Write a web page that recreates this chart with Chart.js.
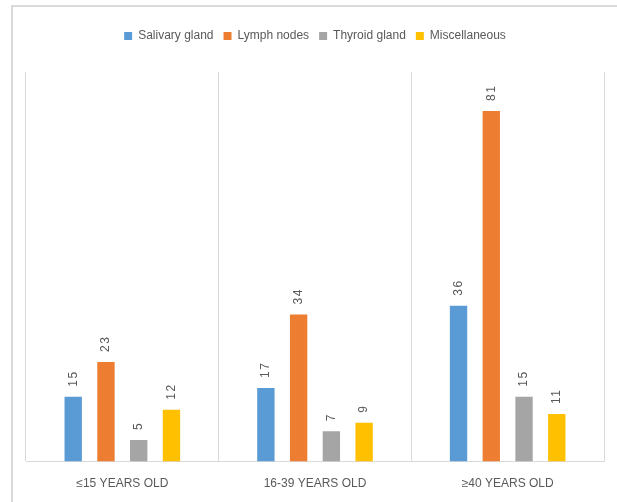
<!DOCTYPE html>
<html>
<head>
<meta charset="utf-8">
<script src="https://cdn.jsdelivr.net/npm/chart.js@4/dist/chart.umd.min.js"></script>
<style>
  html, body { margin: 0; padding: 0; background: #fff; }
  #wrap { width: 617px; height: 502px; position: relative; }
</style>
</head>
<body>
<div id="wrap"><canvas id="myChart"></canvas></div>
<script>
const categories = ['≤15 YEARS OLD', '16-39 YEARS OLD', '≥40 YEARS OLD'];
const salivaryGland = [15, 17, 36];
const lymphNodes = [23, 34, 81];
const thyroidGland = [5, 7, 15];
const miscellaneous = [12, 9, 11];

const FONT = "'Liberation Sans', 'DejaVu Sans', sans-serif";
const TEXT = '#595959';

// frame around the whole chart + rotated value labels
const framePlugin = {
    id: 'frame',
    beforeDraw(chart) {
        const ctx = chart.ctx;
        ctx.save();
        ctx.strokeStyle = '#d9d9d9';
        ctx.lineWidth = 2;
        ctx.strokeRect(12, 6, 700, 600);
        ctx.restore();
    },
    afterDatasetsDraw(chart) {
        const ctx = chart.ctx;
        ctx.save();
        ctx.font = '12px ' + FONT;
        ctx.fillStyle = TEXT;
        ctx.textAlign = 'left';
        ctx.textBaseline = 'middle';
        chart.data.datasets.forEach((ds, i) => {
            const meta = chart.getDatasetMeta(i);
            meta.data.forEach((bar, j) => {
                ctx.save();
                ctx.translate(bar.x, bar.y - 10);
                ctx.rotate(-Math.PI / 2);
                ctx.letterSpacing = '1.5px';
                ctx.fillText(String(ds.data[j]), 0, 0);
                ctx.restore();
            });
        });
        ctx.restore();
    }
};

// a bit more room under the legend
const legendGap = {
    id: 'legendGap',
    beforeInit(chart) {
        const fit = chart.legend.fit;
        chart.legend.fit = function () {
            fit.bind(chart.legend)();
            this.height += 20;
        };
    }
};

const ctx = document.getElementById('myChart');
new Chart(ctx, {
    type: 'bar',
    data: {
        labels: categories,
        datasets: [
            { label: 'Salivary gland', data: salivaryGland, backgroundColor: '#5b9bd5' },
            { label: 'Lymph nodes', data: lymphNodes, backgroundColor: '#ed7d31' },
            { label: 'Thyroid gland', data: thyroidGland, backgroundColor: '#a5a5a5' },
            { label: 'Miscellaneous', data: miscellaneous, backgroundColor: '#ffc000' }
        ]
    },
    options: {
        responsive: true,
        maintainAspectRatio: false,
        animation: false,
        layout: { padding: { left: 26, right: 13, top: 20, bottom: -4 } },
        datasets: {
            bar: { categoryPercentage: 0.68, barPercentage: 0.53 }
        },
        plugins: {
            legend: {
                position: 'top',
                labels: {
                    boxWidth: 8,
                    boxHeight: 8,
                    padding: 10,
                    color: TEXT,
                    font: { family: FONT, size: 12 }
                }
            },
            tooltip: { enabled: false }
        },
        scales: {
            x: {
                grid: { color: '#d9d9d9', drawTicks: false, offset: true },
                border: { color: '#d9d9d9' },
                ticks: {
                    padding: 15,
                    color: TEXT,
                    font: { family: FONT, size: 12 }
                }
            },
            y: {
                display: false,
                min: 0,
                max: 90
            }
        }
    },
    plugins: [framePlugin, legendGap]
});
</script>
</body>
</html>
